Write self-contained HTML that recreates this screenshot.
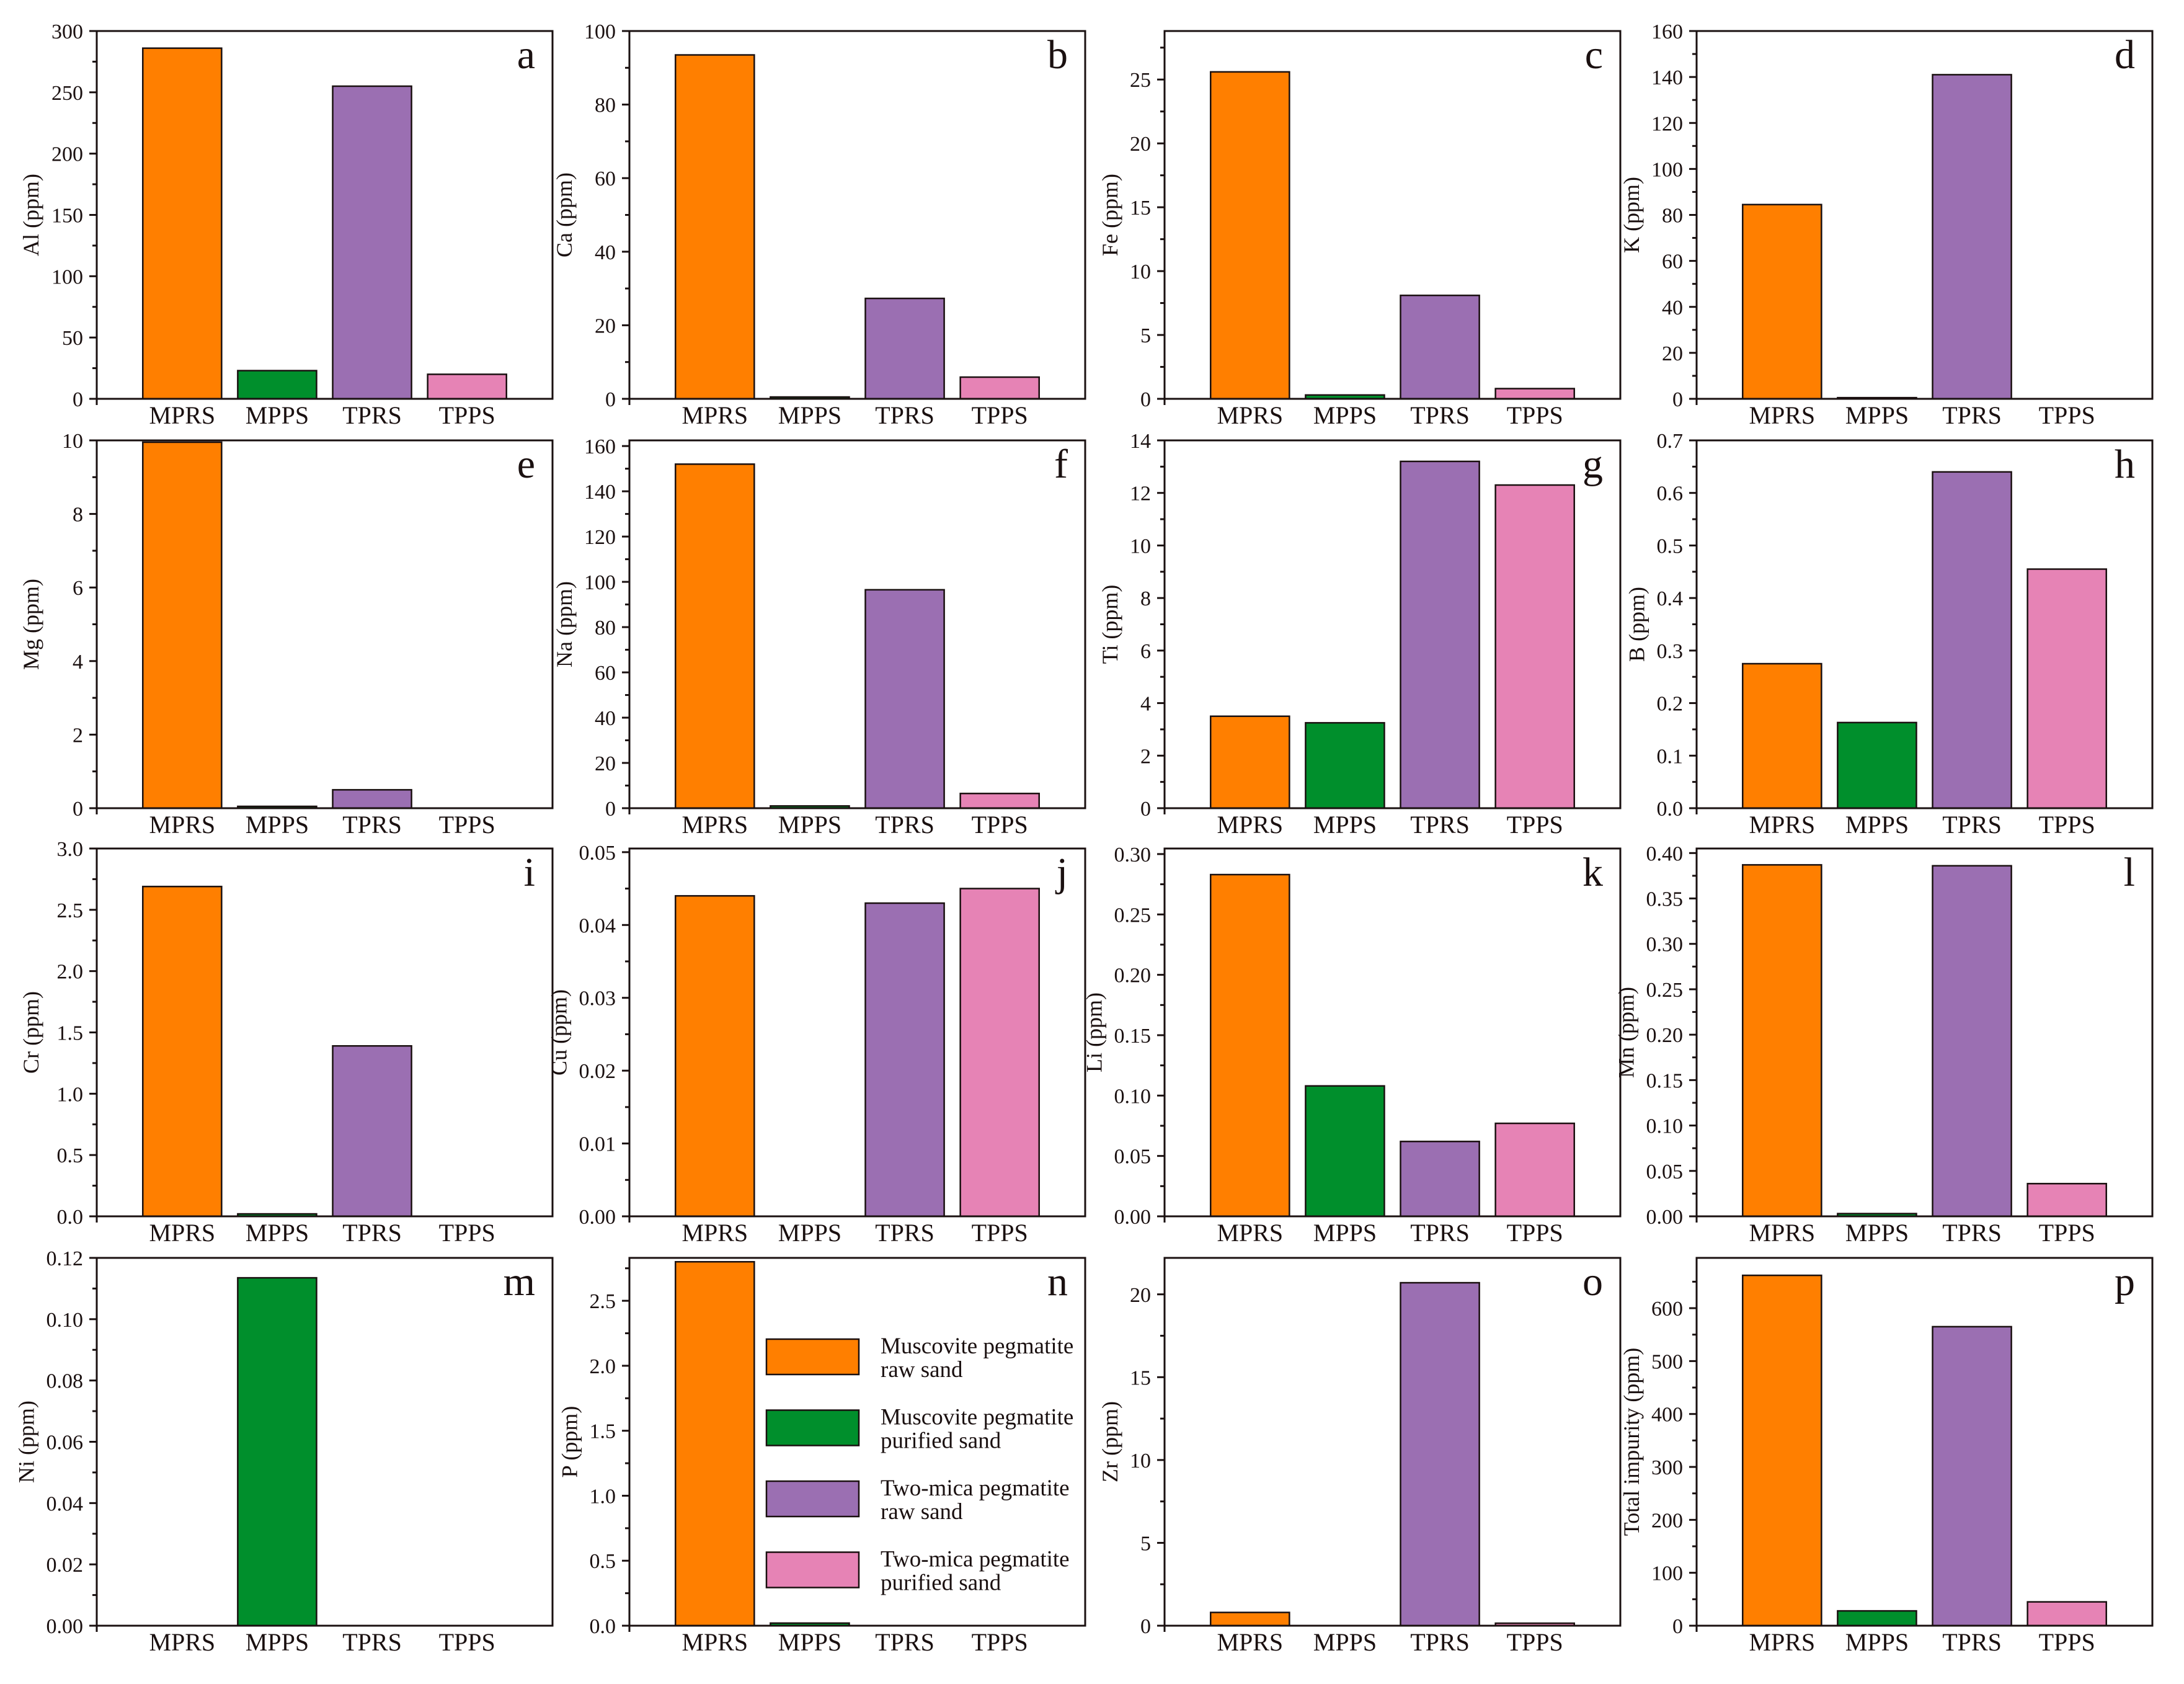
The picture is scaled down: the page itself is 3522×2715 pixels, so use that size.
<!DOCTYPE html>
<html><head><meta charset="utf-8">
<style>
html,body{margin:0;padding:0;background:#fff;}
svg{display:block;}
text{font-family:"Liberation Serif",serif;fill:#1a1010;}
</style></head>
<body>
<svg id="fig" width="3522" height="2715" viewBox="0 0 3522 2715" xmlns="http://www.w3.org/2000/svg">
<rect x="0" y="0" width="3522" height="2715" fill="#fff"/>
</svg>
<script>
const categories = ["MPRS","MPPS","TPRS","TPPS"];
const colors = ["#FF7F00","#008F2C","#9B6FB2","#E683B5"];
const panelLetters = ["a","b","c","d","e","f","g","h","i","j","k","l","m","n","o","p"];
const yTitles = ["Al (ppm)","Ca (ppm)","Fe (ppm)","K (ppm)","Mg (ppm)","Na (ppm)","Ti (ppm)","B (ppm)","Cr (ppm)","Cu (ppm)","Li (ppm)","Mn (ppm)","Ni (ppm)","P (ppm)","Zr (ppm)","Total impurity (ppm)"];
const valuesAl = [286, 23, 255, 20];
const valuesCa = [93.5, 0.5, 27.3, 5.9];
const valuesFe = [25.6, 0.3, 8.1, 0.8];
const valuesK = [84.5, 0.5, 141, 0];
const valuesMg = [9.95, 0.05, 0.5, 0];
const valuesNa = [152, 1, 96.5, 6.5];
const valuesTi = [3.5, 3.25, 13.2, 12.3];
const valuesB = [0.275, 0.163, 0.64, 0.455];
const valuesCr = [2.69, 0.02, 1.39, 0];
const valuesCu = [0.044, 0, 0.043, 0.045];
const valuesLi = [0.283, 0.108, 0.062, 0.077];
const valuesMn = [0.387, 0.003, 0.386, 0.036];
const valuesNi = [0, 0.1135, 0, 0];
const valuesP = [2.8, 0.02, 0, 0];
const valuesZr = [0.8, 0, 20.7, 0.15];
const valuesTotal = [662, 28, 565, 45];
const yMax = [300, 100, 28.8, 160, 10, 162.5, 14, 0.7, 3.0, 0.0505, 0.3046, 0.405, 0.12, 2.83, 22.2, 695];
const yStep = [50, 20, 5, 20, 2, 20, 2, 0.1, 0.5, 0.01, 0.05, 0.05, 0.02, 0.5, 5, 100];
const yDecimals = [0, 0, 0, 0, 0, 0, 0, 1, 1, 2, 2, 2, 2, 1, 0, 0];
const legendLabels = [["Muscovite pegmatite","raw sand"],["Muscovite pegmatite","purified sand"],["Two-mica pegmatite","raw sand"],["Two-mica pegmatite","purified sand"]];

const allValues = [valuesAl,valuesCa,valuesFe,valuesK,valuesMg,valuesNa,valuesTi,valuesB,valuesCr,valuesCu,valuesLi,valuesMn,valuesNi,valuesP,valuesZr,valuesTotal];
const NS = "http://www.w3.org/2000/svg";
const svg = document.getElementById("fig");
const colLeft = [156, 1015, 1878, 2736];
const titleOff = [106, 88, 88, 82];
const rowTop = [50, 710, 1368, 2028];
const PW = 735, PH = 593;

function mk(tag, attrs, parent){
  const e = document.createElementNS(NS, tag);
  for (const k in attrs) e.setAttribute(k, attrs[k]);
  (parent||svg).appendChild(e);
  return e;
}

for (let p = 0; p < 16; p++) {
  const L = colLeft[p % 4], T = rowTop[Math.floor(p / 4)], B = T + PH, R = L + PW;
  const g = mk("g", {});
  
  
  const xs = i => L + PW * ((i + 1) - 0.1) / 4.8;
  const ys = v => B - PH * v / yMax[p];
  const bw = PW * 0.83 / 4.8;
  allValues[p].forEach((v, i) => {
    if (v <= 0) return;
    const r = mk("rect", {x: xs(i) - bw/2, y: ys(v), width: bw, height: B - ys(v), fill: colors[i], stroke: "#1a1010", "stroke-width": 2.5}, g);
    
    
  });
  const fr = mk("rect", {x: L, y: T, width: PW, height: PH, fill: "none", stroke: "#1a1010", "stroke-width": 3}, g);
  
  
  const step = yStep[p];
  const nMaj = Math.floor(yMax[p] / step + 1e-6);
  let maxW = 0;
  for (let k = 0; k <= nMaj; k++) {
    const v = k * step, y = ys(v);
    mk("line", {x1: L - 12, x2: L, y1: y, y2: y, stroke: "#1a1010", "stroke-width": 3}, g);
    const t = mk("text", {x: L - 22, y: y + 12, "text-anchor": "end", "font-size": 34}, g);
    const s = v.toFixed(yDecimals[p]);
    t.textContent = s;
    
    
    let w = 0;
    for (const ch of s) w += (ch === '.') ? 8.5 : 17;
    maxW = Math.max(maxW, w);
    const mv = v + step / 2;
    if (mv <= yMax[p]) {
      const my = ys(mv);
      mk("line", {x1: L - 7, x2: L, y1: my, y2: my, stroke: "#1a1010", "stroke-width": 3}, g);
    }
  }
  mk("line", {x1: L, x2: L, y1: B, y2: B + 10, stroke: "#1a1010", "stroke-width": 3}, g);
  categories.forEach((c, i) => {
    const t = mk("text", {x: xs(i), y: B + 40, "text-anchor": "middle", "font-size": 40}, g);
    t.textContent = c;
    
    
  });
  const off = Math.max(titleOff[p % 4], 22 + maxW + 32);
  const tx = L - off, ty = T + PH / 2;
  const yt = mk("text", {x: tx, y: ty, "text-anchor": "middle", "dominant-baseline": "central", "font-size": 36, transform: "rotate(-90 " + tx + " " + ty + ")"}, g);
  yt.textContent = yTitles[p];
  
  
  const lt = mk("text", {x: R - 28, y: T + 60, "text-anchor": "end", "font-size": 66}, g);
  lt.textContent = panelLetters[p];
  
  
}

const lg = mk("g", {});


legendLabels.forEach((lab, i) => {
  const y0 = 2159 + i * 114.5;
  const sw = mk("rect", {x: 1236, y: y0, width: 149, height: 57, fill: colors[i], stroke: "#1a1010", "stroke-width": 2.5}, lg);
  
  
  const t1 = mk("text", {x: 1420, y: y0 + 23, "font-size": 37}, lg);
  t1.textContent = lab[0];
  
  
  const t2 = mk("text", {x: 1420, y: y0 + 61, "font-size": 37}, lg);
  t2.textContent = lab[1];
  
  
});
</script>
</body></html>
